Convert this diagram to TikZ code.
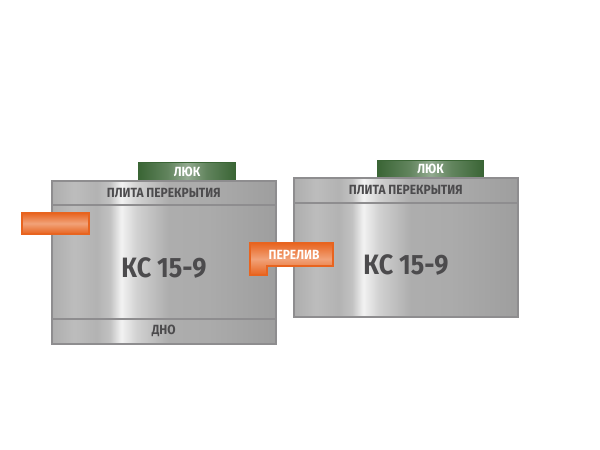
\documentclass[tikz,border=0pt]{standalone}
\usepackage{fontspec}
\setmainfont{Fira Sans}[FakeStretch=0.9]
\usetikzlibrary{positioning}
\definecolor{tankedge}{HTML}{8E8D8F}
\definecolor{tanktext}{HTML}{4C4B4D}
\definecolor{lidedge}{HTML}{3A6535}
\definecolor{pipeedge}{HTML}{E8641F}
\pgfdeclarehorizontalshading{tankmetal}{100bp}{
  color(0bp)=(black!32);color(25bp)=(black!32);color(30bp)=(black!26);color(35bp)=(black!30);
  color(38bp)=(black!24);color(40.5bp)=(black!5);color(44bp)=(black!18);
  color(51bp)=(black!32);color(60bp)=(black!33);color(75bp)=(black!38);color(100bp)=(black!38)}
\pgfdeclarehorizontalshading{lidgreen}{100bp}{
  color(0bp)=(lidedge);color(25bp)=(lidedge);color(40bp)=(lidedge!80!white);color(50bp)=(lidedge!55!white);
  color(60bp)=(lidedge!80!white);color(75bp)=(lidedge);color(100bp)=(lidedge)}
\tikzset{
  tankpart/.style={draw=tankedge,line width=1.6pt,shading=tankmetal,inner sep=0pt,
    anchor=north west,font=\bfseries\fontsize{13.3}{13.3}\selectfont,text=tanktext},
  lid/.style={draw=lidedge,line width=1pt,shading=lidgreen,inner sep=0pt,anchor=north west,
    font=\bfseries\fontsize{13.3}{13.3}\selectfont,text=white},
  pipe/.style={draw=pipeedge,line width=1.8pt,top color=pipeedge,bottom color=pipeedge,
    middle color=pipeedge!60!white},
  tanktitle/.style={font=\bfseries\fontsize{28}{28}\selectfont,text=tanktext},
}
\begin{document}
\begin{tikzpicture}[x=1pt,y=-1pt]
  \useasboundingbox (0,0) rectangle (600,450);
  % left tank
  \node[lid,minimum width=97pt,minimum height=18pt] (lidL) at (138,162) {ЛЮК};
  \node[tankpart,minimum width=224pt,minimum height=24pt] (slabL) at (51,180) {ПЛИТА ПЕРЕКРЫТИЯ};
  \node[tankpart,minimum width=224pt,minimum height=114pt] (bodyL) at (51,204) {};
  \node[tankpart,minimum width=224pt,minimum height=25pt] (baseL) at (51,318) {ДНО};
  \node[tanktitle] (titleL) at (164,268) {КС 15-9};
  % right tank
  \node[lid,minimum width=106pt,minimum height=17pt] (lidR) at (377,160) {ЛЮК};
  \node[tankpart,minimum width=224pt,minimum height=25pt] (slabR) at (293,177) {ПЛИТА ПЕРЕКРЫТИЯ};
  \node[tankpart,minimum width=224pt,minimum height=114pt] (bodyR) at (293,202) {};
  \node[tanktitle] (titleR) at (406,265) {КС 15-9};
  % pipes
  \node[pipe,inner sep=0pt,minimum width=67pt,minimum height=21pt,anchor=north west] (inlet) at (21,212) {};
  \path[pipe] (250,243) -- (333,243) -- (333,266) -- (267,266) -- (267,275) -- (250,275) -- cycle;
  \node[font=\bfseries\fontsize{13.3}{13.3}\selectfont,text=white] (overflow) at (294,255) {ПЕРЕЛИВ};
\end{tikzpicture}
\end{document}
